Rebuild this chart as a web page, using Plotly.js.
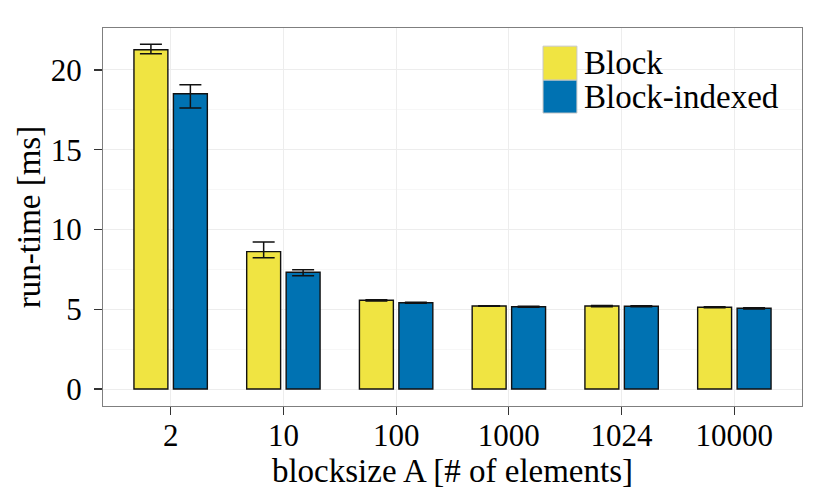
<!DOCTYPE html>
<html>
<head>
<meta charset="utf-8">
<script src="https://cdn.plot.ly/plotly-3.0.1.min.js"></script>
<style>
  html, body { margin: 0; padding: 0; background: #fff; }
  #chart { width: 830px; height: 498px; }
</style>
</head>
<body>
<div id="chart"></div>
<script>
// ─── data ───
var blockSizes = ['2', '10', '100', '1000', '1024', '10000'];

var blockMean = [21.27, 8.61, 5.56, 5.20, 5.20, 5.12];
var blockErrPlus = [0.34, 0.61, 0.04, 0.02, 0.04, 0.03];
var blockErrMinus = [0.25, 0.38, 0.04, 0.02, 0.04, 0.03];

var indexedMean = [18.51, 7.32, 5.41, 5.16, 5.19, 5.06];
var indexedErrPlus = [0.57, 0.16, 0.03, 0.03, 0.03, 0.04];
var indexedErrMinus = [0.89, 0.22, 0.03, 0.03, 0.03, 0.04];

var seriesNames = ['Block', 'Block-indexed'];
var seriesColors = ['#F0E442', '#0072B2'];

var FONT = '"Liberation Serif", "Times New Roman", serif';

function barTrace(name, color, y, plus, minus) {
  return {
    type: 'bar',
    name: name,
    x: blockSizes,
    y: y,
    marker: { color: color, line: { color: '#111', width: 1.4 } },
    error_y: {
      type: 'data', symmetric: false,
      array: plus, arrayminus: minus,
      color: '#111', thickness: 1.5, width: 11
    },
    showlegend: false,
    hoverinfo: 'x+y+name'
  };
}

var traces = [
  barTrace(seriesNames[0], seriesColors[0], blockMean, blockErrPlus, blockErrMinus),
  barTrace(seriesNames[1], seriesColors[1], indexedMean, indexedErrPlus, indexedErrMinus)
];

// hand-drawn legend (ggplot style big swatches)
var shapes = [];
var annotations = [];
var legY = [[0.862, 0.952], [0.775, 0.862]];
seriesNames.forEach(function (n, i) {
  shapes.push({
    type: 'rect', xref: 'paper', yref: 'paper',
    x0: 0.6295, x1: 0.678, y0: legY[i][0], y1: legY[i][1],
    fillcolor: seriesColors[i], line: { color: '#c8c8c8', width: 1 }
  });
  annotations.push({
    xref: 'paper', yref: 'paper',
    x: 0.685, y: (legY[i][0] + legY[i][1]) / 2,
    xanchor: 'left', yanchor: 'middle',
    text: n, showarrow: false,
    font: { family: FONT, size: 33, color: '#000' }
  });
});

var layout = {
  width: 830, height: 498,
  margin: { l: 103, r: 28, t: 28, b: 92 },
  paper_bgcolor: '#fff',
  plot_bgcolor: '#fff',
  font: { family: FONT, color: '#000', size: 30 },
  barmode: 'group',
  bargap: 0.3,
  bargroupgap: 0.14,
  showlegend: false,
  xaxis: {
    type: 'category',
    range: [-0.6, 5.6],
    showline: true, mirror: true, linecolor: '#7f7f7f', linewidth: 1,
    showgrid: true, gridcolor: '#ededed', gridwidth: 1,
    ticks: 'outside', ticklen: 8, tickwidth: 1.2, tickcolor: '#333',
    ticklabelstandoff: -6,
    tickfont: { family: FONT, size: 31, color: '#000' },
    title: { text: 'blocksize A [# of elements]', standoff: 0,
      font: { family: FONT, size: 33, color: '#000' } },
    zeroline: false,
    fixedrange: true
  },
  yaxis: {
    range: [-1.066, 22.63],
    tickvals: [0, 5, 10, 15, 20],
    showline: true, mirror: true, linecolor: '#7f7f7f', linewidth: 1,
    showgrid: true, gridcolor: '#ededed', gridwidth: 1,
    minor: { tickvals: [2.5, 7.5, 12.5, 17.5], showgrid: true, gridcolor: '#f7f7f7', gridwidth: 1, ticks: '' },
    ticks: 'outside', ticklen: 8, tickwidth: 1.2, tickcolor: '#333',
    ticklabelstandoff: 6,
    tickfont: { family: FONT, size: 31, color: '#000' },
    title: { text: 'run-time [ms]', standoff: 0,
      font: { family: FONT, size: 33, color: '#000' } },
    zeroline: false,
    fixedrange: true
  },
  shapes: shapes,
  annotations: annotations
};

Plotly.newPlot('chart', traces, layout, { displayModeBar: false, staticPlot: true });
</script>
</body>
</html>
